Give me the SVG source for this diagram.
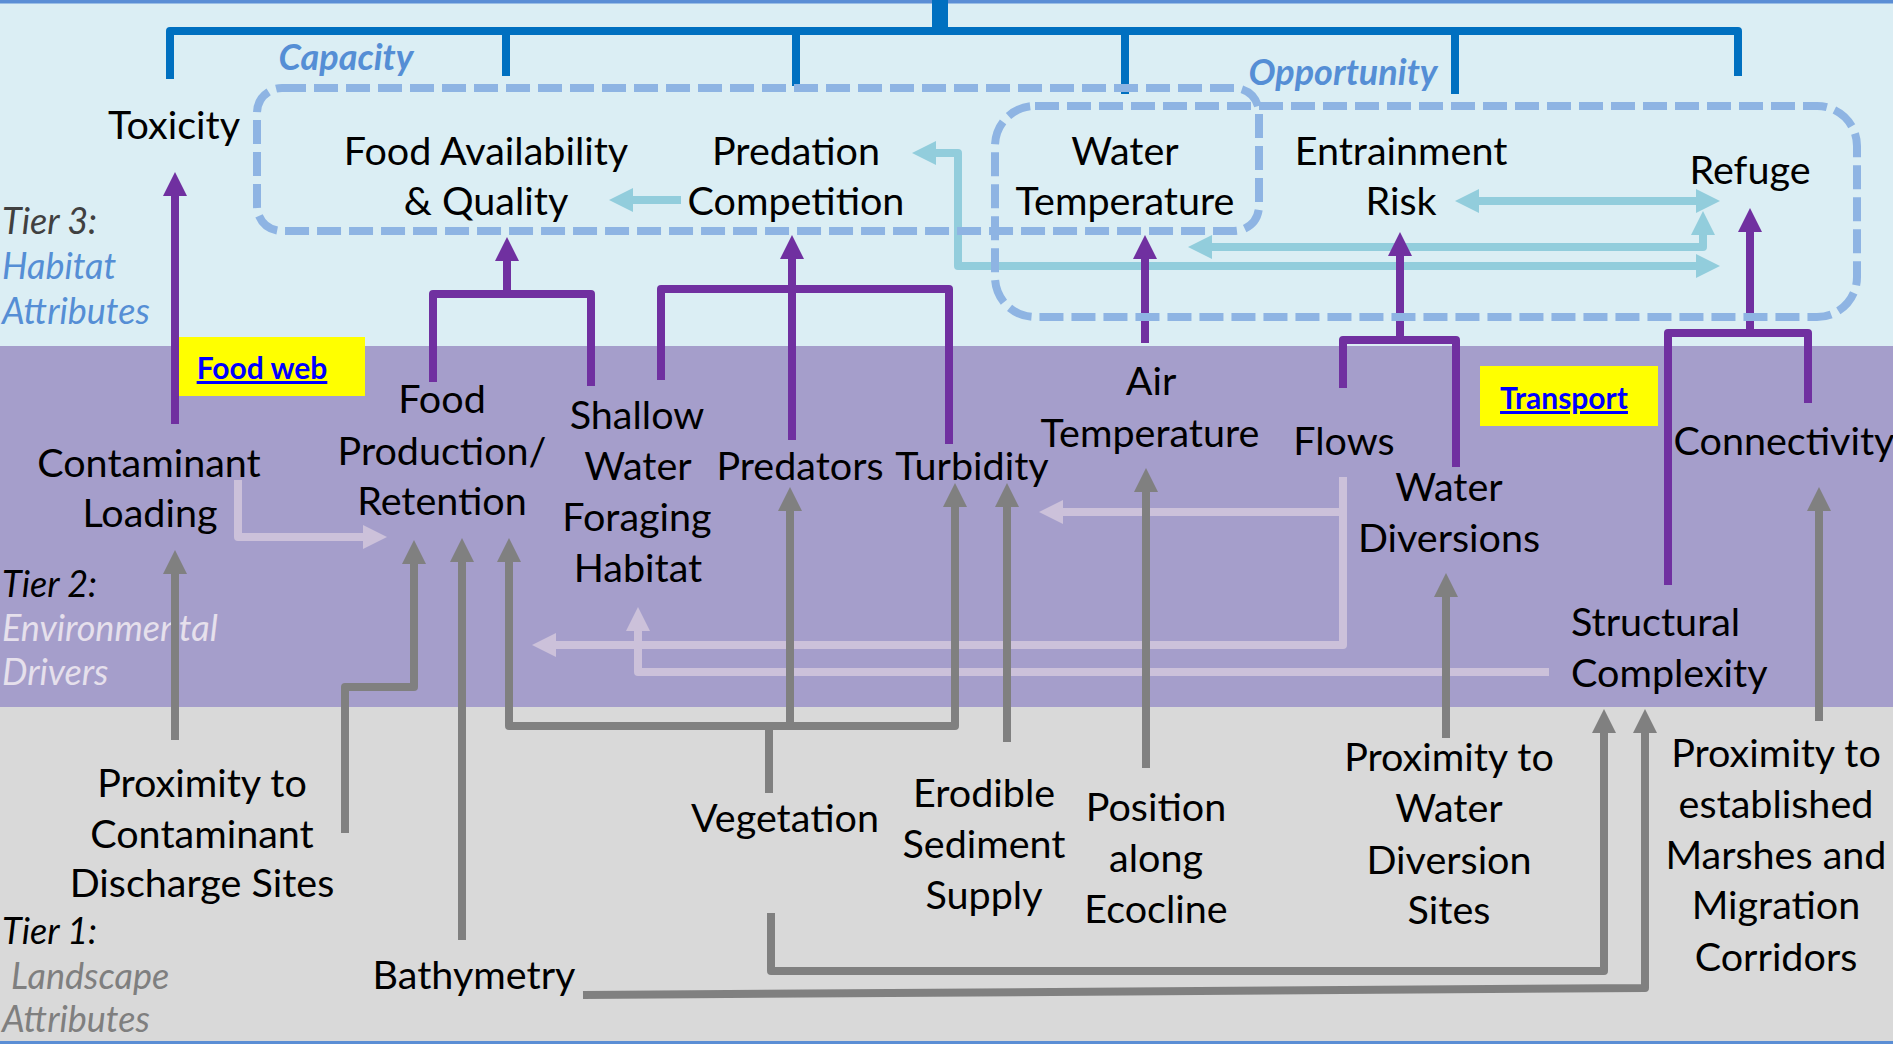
<svg xmlns="http://www.w3.org/2000/svg" width="1893" height="1044" viewBox="0 0 1893 1044">
<style>
text{transform:translateY(2px)}
.t{font-family:Lato,"Liberation Sans",sans-serif;font-size:39.5px;fill:#000;text-anchor:middle}
.tl{text-anchor:start}
.tier{font-family:Lato,"Liberation Sans",sans-serif;font-size:36px;font-style:italic}
.grp{font-family:Lato,"Liberation Sans",sans-serif;font-size:36px;font-style:italic;font-weight:bold;fill:#558ED5;text-anchor:middle}
.link{font-family:Lato,"Liberation Sans",sans-serif;font-size:30px;font-weight:bold;fill:#0000FF;text-decoration:underline;text-anchor:middle}
.c{fill:none;stroke-width:8;stroke-linejoin:round}
.g{stroke:#808080}
.p{stroke:#7030A0}
.l{stroke:#CCC1DA}
.b{stroke:#92CDDC}
.tree{fill:none;stroke:#0070C0;stroke-width:8;stroke-linejoin:round}
.box{fill:none;stroke:#8EB4E3;stroke-width:8;stroke-dasharray:24 8}
</style>
<defs>
<marker id="mg" markerUnits="userSpaceOnUse" markerWidth="24" markerHeight="24" viewBox="0 0 24 24" refX="2" refY="12" orient="auto-start-reverse"><path d="M0,0L24,12L0,24z" fill="#808080"/></marker>
<marker id="mp" markerUnits="userSpaceOnUse" markerWidth="24" markerHeight="24" viewBox="0 0 24 24" refX="2" refY="12" orient="auto-start-reverse"><path d="M0,0L24,12L0,24z" fill="#7030A0"/></marker>
<marker id="ml" markerUnits="userSpaceOnUse" markerWidth="24" markerHeight="24" viewBox="0 0 24 24" refX="2" refY="12" orient="auto-start-reverse"><path d="M0,0L24,12L0,24z" fill="#CCC1DA"/></marker>
<marker id="mb" markerUnits="userSpaceOnUse" markerWidth="24" markerHeight="24" viewBox="0 0 24 24" refX="2" refY="12" orient="auto-start-reverse"><path d="M0,0L24,12L0,24z" fill="#92CDDC"/></marker>
</defs>

<g id="background">
<rect x="0" y="0" width="1893" height="346" fill="#DBEEF4"/>
<rect x="0" y="346" width="1893" height="361" fill="#A59ECB"/>
<rect x="0" y="707" width="1893" height="337" fill="#D9D9D9"/>
<rect x="0" y="0" width="1893" height="3.5" fill="#5B8ED5"/>
<rect x="0" y="1041" width="1893" height="3" fill="#5B8ED5"/>
</g>

<g id="tier-labels">
<text class="tier" x="2" y="232" fill="#404040">Tier 3:</text>
<text class="tier" x="2" y="277" fill="#558ED5">Habitat</text>
<text class="tier" x="2" y="322" fill="#558ED5">Attributes</text>
<text class="tier" x="2" y="595" fill="#000">Tier 2:</text>
<text class="tier" x="2" y="639" fill="#E6E0EC">Environmental</text>
<text class="tier" x="2" y="683" fill="#E6E0EC">Drivers</text>
<text class="tier" x="2" y="942" fill="#000">Tier 1:</text>
<text class="tier" x="11" y="987" fill="#7F7F7F">Landscape</text>
<text class="tier" x="2" y="1030" fill="#7F7F7F">Attributes</text>
</g>

<g id="group-labels">
<text class="grp" x="346" y="68">Capacity</text>
<text class="grp" x="1343" y="83">Opportunity</text>
</g>

<g id="n-food-web">
<rect x="178" y="337" width="187" height="59" fill="#FFFF00"/>
<text class="link" x="262" y="377">Food web</text>
</g>
<g id="n-transport">
<rect x="1480" y="366" width="178" height="60" fill="#FFFF00"/>
<text class="link" x="1564" y="407">Transport</text>
</g>

<g id="n-toxicity"><text class="t" x="174" y="137">Toxicity</text></g>
<g id="n-food-availability"><text class="t" x="486" y="163">Food Availability</text><text class="t" x="486" y="213">&amp; Quality</text></g>
<g id="n-predation"><text class="t" x="796" y="163">Predation</text><text class="t" x="796" y="213">Competition</text></g>
<g id="n-water-temperature"><text class="t" x="1125" y="163">Water</text><text class="t" x="1125" y="213">Temperature</text></g>
<g id="n-entrainment"><text class="t" x="1401" y="163">Entrainment</text><text class="t" x="1401" y="213">Risk</text></g>
<g id="n-refuge"><text class="t" x="1750" y="182">Refuge</text></g>

<g id="n-contaminant-loading"><text class="t" x="149" y="475">Contaminant</text><text class="t" x="150" y="525">Loading</text></g>
<g id="n-food-production"><text class="t" x="442" y="411">Food</text><text class="t" x="442" y="463">Production/</text><text class="t" x="442" y="513">Retention</text></g>
<g id="n-shallow-water"><text class="t" x="637" y="427">Shallow</text><text class="t" x="638" y="478">Water</text><text class="t" x="637" y="529">Foraging</text><text class="t" x="638" y="580">Habitat</text></g>
<g id="n-predators"><text class="t" x="800" y="478">Predators</text></g>
<g id="n-turbidity"><text class="t" x="972" y="478">Turbidity</text></g>
<g id="n-air-temperature"><text class="t" x="1151" y="393">Air</text><text class="t" x="1150" y="445">Temperature</text></g>
<g id="n-flows"><text class="t" x="1344" y="453">Flows</text></g>
<g id="n-water-diversions"><text class="t" x="1449" y="499">Water</text><text class="t" x="1449" y="550">Diversions</text></g>
<g id="n-connectivity"><text class="t" x="1784" y="453">Connectivity</text></g>
<g id="n-structural-complexity"><text class="t tl" x="1571" y="634">Structural</text><text class="t tl" x="1571" y="685">Complexity</text></g>

<g id="n-prox-contaminant"><text class="t" x="202" y="795">Proximity to</text><text class="t" x="202" y="846">Contaminant</text><text class="t" x="202" y="895">Discharge Sites</text></g>
<g id="n-bathymetry"><text class="t" x="474" y="987">Bathymetry</text></g>
<g id="n-vegetation"><text class="t" x="785" y="830">Vegetation</text></g>
<g id="n-erodible"><text class="t" x="984" y="805">Erodible</text><text class="t" x="984" y="856">Sediment</text><text class="t" x="984" y="907">Supply</text></g>
<g id="n-position"><text class="t" x="1156" y="819">Position</text><text class="t" x="1156" y="870">along</text><text class="t" x="1156" y="921">Ecocline</text></g>
<g id="n-prox-water"><text class="t" x="1449" y="769">Proximity to</text><text class="t" x="1449" y="820">Water</text><text class="t" x="1449" y="872">Diversion</text><text class="t" x="1449" y="922">Sites</text></g>
<g id="n-prox-marsh"><text class="t" x="1776" y="765">Proximity to</text><text class="t" x="1776" y="816">established</text><text class="t" x="1776" y="867">Marshes and</text><text class="t" x="1776" y="917">Migration</text><text class="t" x="1776" y="969">Corridors</text></g>

<g id="connectors">
<!-- top tree -->
<rect x="932" y="0" width="16" height="31" fill="#0070C0"/>
<path class="tree" d="M170,79V31H1738V76"/>
<path class="tree" d="M506,31V76M796,31V86M1125,31V94M1455,31V94"/>
<!-- light blue -->
<path class="c b" d="M681,200H631" marker-end="url(#mb)"/>
<path class="c b" d="M934,153H958V266H1698" marker-start="url(#mb)" marker-end="url(#mb)"/>
<path class="c b" d="M1477,201H1698" marker-start="url(#mb)" marker-end="url(#mb)"/>
<path class="c b" d="M1210,247H1703V233" marker-start="url(#mb)" marker-end="url(#mb)"/>
<!-- purple -->
<path class="c p" d="M175,424V194" marker-end="url(#mp)"/>
<path class="c p" d="M433,382V294H591V386"/>
<path class="c p" d="M507,294V259" marker-end="url(#mp)"/>
<path class="c p" d="M661,380V289H949V444"/>
<path class="c p" d="M792,440V257" marker-end="url(#mp)"/>
<path class="c p" d="M1145,343V257" marker-end="url(#mp)"/>
<path class="c p" d="M1343,388V340H1456V467"/>
<path class="c p" d="M1400,340V254" marker-end="url(#mp)"/>
<path class="c p" d="M1668,585V333H1808V403"/>
<path class="c p" d="M1750,333V230" marker-end="url(#mp)"/>
<!-- lavender -->
<path class="c l" d="M238,480V537H365" marker-end="url(#ml)"/>
<path class="c l" d="M1343,477V645H554" marker-end="url(#ml)"/>
<path class="c l" d="M1343,512H1061" marker-end="url(#ml)"/>
<path class="c l" d="M1549,672H638V629" marker-end="url(#ml)"/>
<!-- gray -->
<path class="c g" d="M175,740V572" marker-end="url(#mg)"/>
<path class="c g" d="M345,833V687H414V562" marker-end="url(#mg)"/>
<path class="c g" d="M462,940V560" marker-end="url(#mg)"/>
<path class="c g" d="M583,995L1645,988V731" marker-end="url(#mg)"/>
<path class="c g" d="M771,913V971H1604V731" marker-end="url(#mg)"/>
<path class="c g" d="M769,793V726"/>
<path class="c g" d="M509,560V726H955V505" marker-start="url(#mg)" marker-end="url(#mg)"/>
<path class="c g" d="M790,726V509" marker-end="url(#mg)"/>
<path class="c g" d="M1007,742V505" marker-end="url(#mg)"/>
<path class="c g" d="M1146,768V490" marker-end="url(#mg)"/>
<path class="c g" d="M1446,738V595" marker-end="url(#mg)"/>
<path class="c g" d="M1819,721V509" marker-end="url(#mg)"/>
</g>

<g id="group-boxes">
<rect class="box" x="257" y="88" width="1002" height="143" rx="25"/>
<rect class="box" x="995" y="106" width="862" height="211" rx="40"/>
</g>
</svg>
